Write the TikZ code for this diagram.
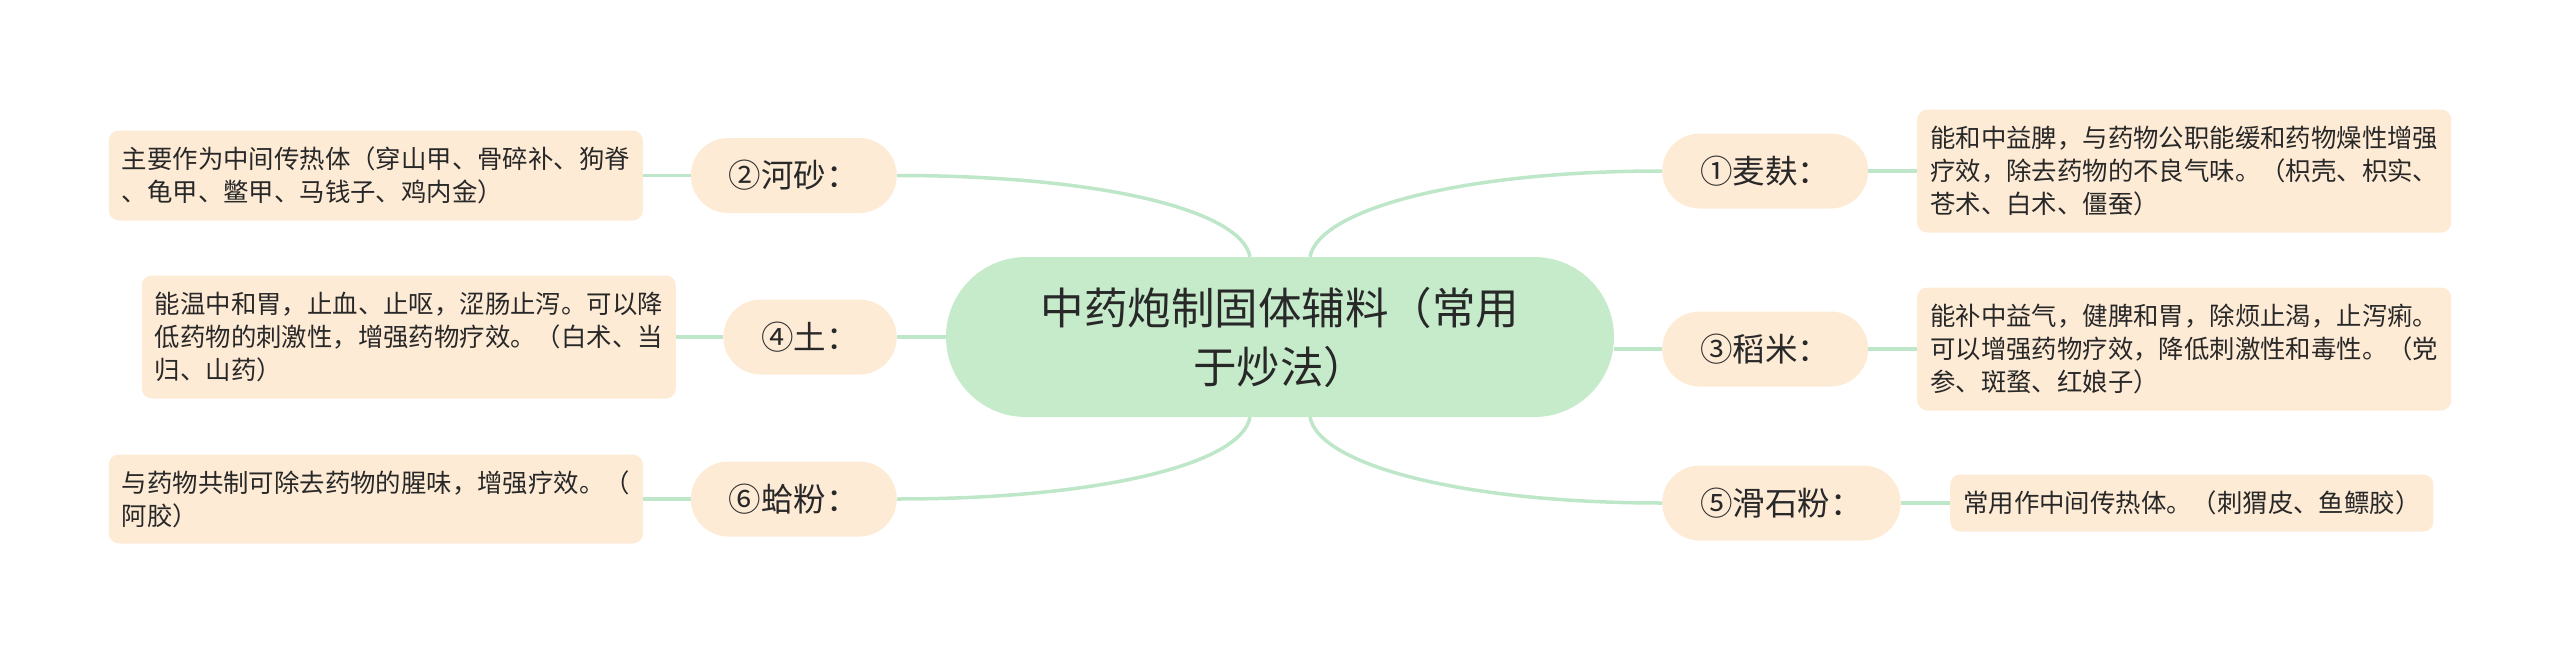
\documentclass[tikz,border=0pt]{standalone}
\usepackage{fontspec}
\setmainfont{Noto Sans CJK SC}
\definecolor{centerfill}{RGB}{197,235,203}
\definecolor{peach}{RGB}{254,235,214}
\definecolor{linkc}{RGB}{190,230,200}
\definecolor{txt}{RGB}{40,40,40}
\begin{document}
\begin{tikzpicture}[x=1pt,y=-1pt,
  link/.style={draw=linkc,line width=3.5pt},
  rootbox/.style={fill=centerfill,rounded corners=79.9pt,minimum width=668pt,minimum height=160pt,inner sep=0pt,align=center,font=\fontsize{43.5}{59}\selectfont,text=txt},
  branchbox/.style={fill=peach,rounded corners=37.5pt,minimum height=75pt,inner xsep=38pt,inner ysep=0pt,font=\fontsize{32.5}{40}\selectfont,text=txt},
  leafbox/.style={fill=peach,rounded corners=10pt,inner xsep=13pt,inner ysep=0pt,align=left,font=\fontsize{25.4}{33}\selectfont,text=txt}]
\useasboundingbox (0,0) rectangle (2560,653);
% root
\node[rootbox] (c) at (1280,337) {中药炮制固体辅料（常用\\于炒法）};
% branches left
\node[branchbox,anchor=east] (b2) at (897,175.5) {②河砂：};
\node[branchbox,anchor=east] (b4) at (897,337) {④土：};
\node[branchbox,anchor=east] (b6) at (897,499) {⑥蛤粉：};
% branches right
\node[branchbox,anchor=west] (b1) at (1662,171) {①麦麸：};
\node[branchbox,anchor=west] (b3) at (1662,349) {③稻米：};
\node[branchbox,anchor=west] (b5) at (1662,503) {⑤滑石粉：};
% leaves left
\node[leafbox,anchor=east,minimum height=90pt] (l2) at (643,175.5) {主要作为中间传热体（穿山甲、骨碎补、狗脊\\、龟甲、鳖甲、马钱子、鸡内金）};
\node[leafbox,anchor=east,minimum height=123pt] (l4) at (676,337) {能温中和胃，止血、止呕，涩肠止泻。可以降\\低药物的刺激性，增强药物疗效。（白术、当\\归、山药）};
\node[leafbox,anchor=east,minimum height=89pt] (l6) at (643,499) {与药物共制可除去药物的腥味，增强疗效。（\\阿胶）};
% leaves right
\node[leafbox,anchor=west,minimum height=123pt] (l1) at (1917,171) {能和中益脾，与药物公职能缓和药物燥性增强\\疗效，除去药物的不良气味。（枳壳、枳实、\\苍术、白术、僵蚕）};
\node[leafbox,anchor=west,minimum height=123pt] (l3) at (1917,349) {能补中益气，健脾和胃，除烦止渴，止泻痢。\\可以增强药物疗效，降低刺激性和毒性。（党\\参、斑蝥、红娘子）};
\node[leafbox,anchor=west,minimum height=57pt] (l5) at (1950,503) {常用作中间传热体。（刺猬皮、鱼鳔胶）};
% curve anchors on root
\coordinate (cNW) at ([xshift=-30pt]c.north);
\coordinate (cNE) at ([xshift=30pt]c.north);
\coordinate (cSW) at ([xshift=-30pt]c.south);
\coordinate (cSE) at ([xshift=30pt]c.south);
% connectors root - branches
\draw[link] (b2.east) .. controls +(203,0) and +(-9,-47) .. (cNW);
\draw[link] (b6.east) .. controls +(203,0) and +(-9,47) .. (cSW);
\draw[link] (b1.west) .. controls +(-203,0) and +(9,-47) .. (cNE);
\draw[link] (b5.west) .. controls +(-203,0) and +(9,47) .. (cSE);
\draw[link] (c.west) -- (b4.east);
\draw[link] (b3.west -| c.east) -- (b3.west);
% connectors branches - leaves
\draw[link] (b2.west) -- (l2.east);
\draw[link] (b4.west) -- (l4.east);
\draw[link] (b6.west) -- (l6.east);
\draw[link] (b1.east) -- (l1.west);
\draw[link] (b3.east) -- (l3.west);
\draw[link] (b5.east) -- (l5.west);
\end{tikzpicture}
\end{document}
